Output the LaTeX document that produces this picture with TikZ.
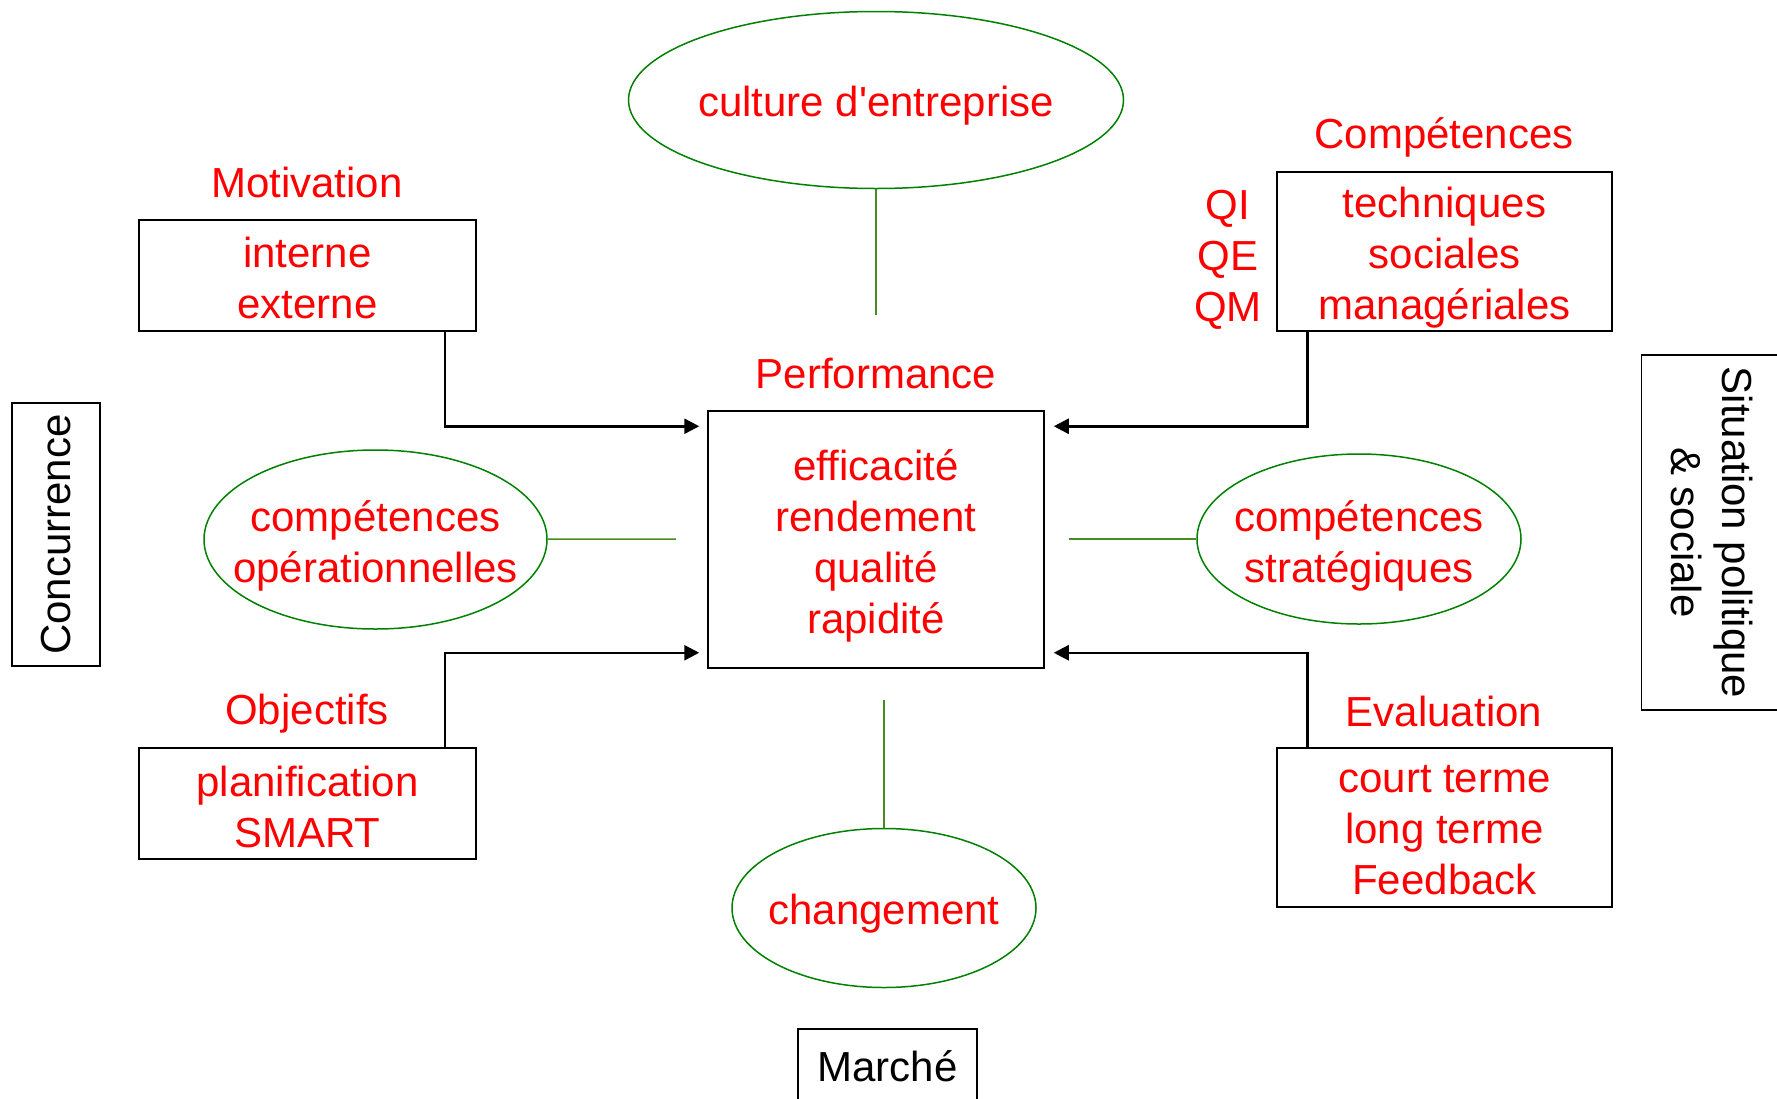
\documentclass[tikz,border=0pt]{standalone}
\usepackage{fontspec}
\setmainfont{Liberation Sans}
\usetikzlibrary{arrows.meta,shapes.geometric,calc}
\definecolor{ovalgreen}{RGB}{0,128,0}
\definecolor{linkgreen}{RGB}{70,140,30}
\tikzstyle{words}=[font=\fontsize{42}{51}\selectfont, align=center, inner sep=0pt]
\tikzstyle{redlabel}=[words, text=red]
\tikzstyle{box}=[words, draw, line width=1.5pt]
\tikzstyle{oval}=[ellipse, draw=ovalgreen, line width=1.5pt, inner sep=0pt]
\tikzstyle{edge}=[draw, line width=2.5pt, -{Triangle[length=15pt,width=15pt]}]
\tikzstyle{link}=[draw=linkgreen, line width=1.5pt]
\begin{document}
\begin{tikzpicture}[x=1pt, y=-1pt]

    \useasboundingbox (0,0) rectangle (1777,1098);
    \clip (0,0) rectangle (1777,1098);

    % red boxes
    \foreach \pos/\name/\w/\h/\dy/\txt in {{(307.5,275.5)/mot/337/111/2/{interne\\externe}},
        {(307.5,803.5)/obj/337/111/3/{planification\\SMART}},
        {(1444.5,251.5)/comp/335/159/6/{techniques\\sociales\\managériales}},
        {(1444.5,827.5)/eval/335/159/3/{court terme\\long terme\\Feedback}},
        {(876,539.5)/perf/336/257/6/{efficacité\\rendement\\qualité\\rapidité}}}
        \node[box, minimum width=\w pt, minimum height=\h pt, label={[redlabel, yshift=-\dy pt]center:\txt}] (\name) at \pos {};

    % ellipses
    \foreach \pos/\name/\w/\h/\dy/\txt in {{(876,100)/cult/495/177/6/{culture d\textquotesingle entreprise}},
        {(375.5,539.5)/op/343/179/6/{compétences\\opérationnelles}},
        {(1359,539)/strat/324/170/7/{compétences\\stratégiques}},
        {(884,908)/chg/304/159/6/{changement}}}
        \node[oval, minimum width=\w pt, minimum height=\h pt, label={[redlabel, yshift=-\dy pt]center:\txt}] (\name) at \pos {};

    % titles
    \foreach \pos/\name/\txt in {{(876,374)/perflbl/Performance},
        {(307,182)/motlbl/Motivation},
        {(307,714)/objlbl/Objectifs},
        {(1444,137)/complbl/Compétences},
        {(1444,711)/evallbl/Evaluation},
        {(1228,260)/qlbl/{QI\\QE\\QM}}}
        \node[redlabel] (\name) at \pos {\txt};

    % surroundings
    \node[box, rotate=90, minimum width=263pt, minimum height=88pt] (conc) at (56,534.5) {Concurrence};
    \node[box, rotate=-90, minimum width=355pt, minimum height=140pt] (sit) at (1711.5,532.5) {Situation politique\\\& sociale};
    \node[box, minimum width=179pt, minimum height=74pt] (march) at (887.5,1066) {Marché};

    % green links
    \coordinate (cultend) at (876,315);
    \coordinate (chgend) at (884,700);
    \coordinate (opend) at (676,539);
    \coordinate (stratend) at (1069,539);
    \draw[link] (cult) -- (cultend);
    \draw[link] (chgend) -- (chg);
    \draw[link] (op) -- (opend);
    \draw[link] (stratend) -- (strat);

    % arrows into performance
    \draw[edge, shorten >=8pt] ([xshift=-32pt]mot.south east) |- ([yshift=-16pt]perf.north west);
    \draw[edge, shorten >=8pt] ([xshift=-32pt]obj.north east) |- ([yshift=16pt]perf.south west);
    \draw[edge, shorten >=9pt] ([xshift=31pt]comp.south west) |- ([yshift=-16pt]perf.north east);
    \draw[edge, shorten >=9pt] ([xshift=31pt]eval.north west) |- ([yshift=16pt]perf.south east);

\end{tikzpicture}
\end{document}
